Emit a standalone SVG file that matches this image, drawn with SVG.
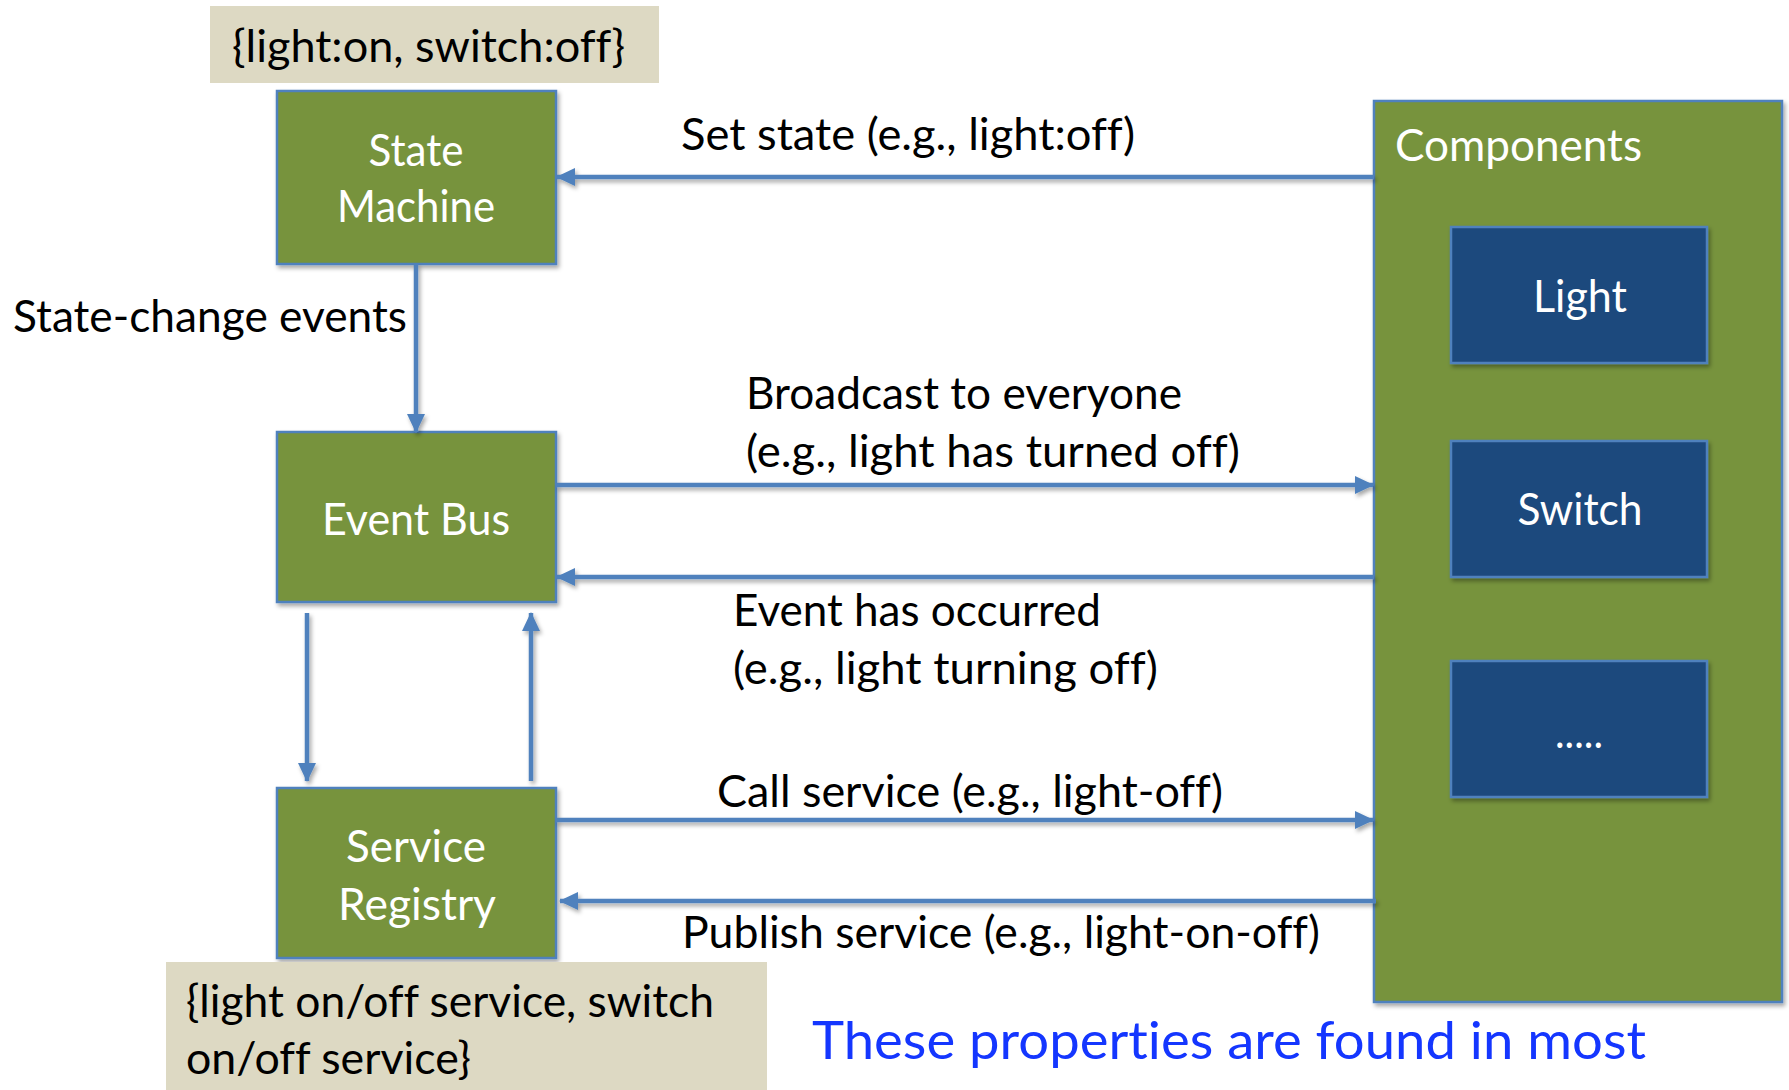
<svg xmlns="http://www.w3.org/2000/svg" width="1789" height="1090" viewBox="0 0 1789 1090">
<defs>
<style>
text{font-variant-ligatures:none;font-feature-settings:"liga" 0,"clig" 0,"dlig" 0}
.node{fill:#77933C;stroke:#4F81BD;stroke-width:2.5}
.comp{fill:#1F497D;stroke:#4F81BD;stroke-width:2.5}
.note{fill:#DDD9C3}
.nl{font-family:Lato,"Open Sans",sans-serif;font-size:44px;fill:#FFFFFF;text-anchor:middle}
.lbl{font-family:Lato,"Open Sans",sans-serif;font-size:45px;fill:#000000}
.wl{fill:#FFFFFF}
.blue{font-family:Lato,"Open Sans",sans-serif;font-size:52px;fill:#1436FF}
.conn{stroke:#4F81BD;stroke-width:4.5;fill:none;marker-end:url(#ah)}
</style>
<marker id="ah" markerUnits="userSpaceOnUse" markerWidth="20" markerHeight="18" refX="18" refY="9" orient="auto">
<path d="M0,0 L19,9 L0,18 z" fill="#4F81BD"/>
</marker>
<filter id="sh" x="-10%" y="-10%" width="130%" height="130%">
<feDropShadow dx="2" dy="3" stdDeviation="2" flood-color="#000" flood-opacity="0.35"/>
</filter>
</defs>
<rect width="1789" height="1090" fill="#FFFFFF"/>

<g id="note-state">
<rect class="note" x="210" y="6" width="449" height="77"/>
<text class="lbl" x="232" y="62" textLength="393" lengthAdjust="spacingAndGlyphs">{light:on, switch:off}</text>
</g>

<g id="components">
<rect class="node" x="1374" y="101" width="408" height="901" filter="url(#sh)"/>
<text class="lbl wl" x="1395" y="161" textLength="247" lengthAdjust="spacingAndGlyphs">Components</text>
</g>
<g id="light">
<rect class="comp" x="1451" y="227" width="256" height="136" filter="url(#sh)"/>
<text class="nl" x="1580" y="312" textLength="94" lengthAdjust="spacingAndGlyphs">Light</text>
</g>
<g id="switch">
<rect class="comp" x="1451" y="441" width="256" height="136" filter="url(#sh)"/>
<text class="nl" x="1580" y="525" textLength="125" lengthAdjust="spacingAndGlyphs">Switch</text>
</g>
<g id="more">
<rect class="comp" x="1451" y="661" width="256" height="136" filter="url(#sh)"/>
<text class="nl" x="1579" y="748" textLength="48" lengthAdjust="spacingAndGlyphs">.....</text>
</g>

<g id="state-machine">
<rect class="node" x="277" y="91" width="279" height="173" filter="url(#sh)"/>
<text class="nl" x="416" y="166" textLength="95" lengthAdjust="spacingAndGlyphs">State</text>
<text class="nl" x="416" y="222" textLength="158" lengthAdjust="spacingAndGlyphs">Machine</text>
</g>

<g id="event-bus">
<rect class="node" x="277" y="432" width="279" height="170" filter="url(#sh)"/>
<text class="nl" x="416" y="535" textLength="188" lengthAdjust="spacingAndGlyphs">Event Bus</text>
</g>

<g id="service-registry">
<rect class="node" x="277" y="788" width="279" height="170" filter="url(#sh)"/>
<text class="nl" x="416" y="862" textLength="140" lengthAdjust="spacingAndGlyphs">Service</text>
<text class="nl" x="417" y="920" textLength="158" lengthAdjust="spacingAndGlyphs">Registry</text>
</g>

<g id="note-services">
<rect class="note" x="166" y="962" width="601" height="128"/>
<text class="lbl" x="186" y="1017" textLength="528" lengthAdjust="spacingAndGlyphs">{light on/off service, switch</text>
<text class="lbl" x="186" y="1074" textLength="285" lengthAdjust="spacingAndGlyphs">on/off service}</text>
</g>

<g id="connectors" filter="url(#sh)">
<line class="conn" x1="1374" y1="177" x2="557" y2="177"/>
<line class="conn" x1="416" y1="264" x2="416" y2="432"/>
<line class="conn" x1="556" y1="485" x2="1373" y2="485"/>
<line class="conn" x1="1374" y1="577" x2="557" y2="577"/>
<line class="conn" x1="307" y1="613" x2="307" y2="781"/>
<line class="conn" x1="531" y1="781" x2="531" y2="613"/>
<line class="conn" x1="556" y1="820" x2="1373" y2="820"/>
<line class="conn" x1="1376" y1="901" x2="560" y2="901"/>
</g>

<g id="labels">
<text class="lbl" x="681" y="150" textLength="454" lengthAdjust="spacingAndGlyphs">Set state (e.g., light:off)</text>
<text class="lbl" x="13" y="332" textLength="394" lengthAdjust="spacingAndGlyphs">State-change events</text>
<text class="lbl" x="746" y="409" textLength="436" lengthAdjust="spacingAndGlyphs">Broadcast to everyone</text>
<text class="lbl" x="746" y="467" textLength="494" lengthAdjust="spacingAndGlyphs">(e.g., light has turned off)</text>
<text class="lbl" x="733" y="626" textLength="368" lengthAdjust="spacingAndGlyphs">Event has occurred</text>
<text class="lbl" x="733" y="684" textLength="425" lengthAdjust="spacingAndGlyphs">(e.g., light turning off)</text>
<text class="lbl" x="717" y="807" textLength="506" lengthAdjust="spacingAndGlyphs">Call service (e.g., light-off)</text>
<text class="lbl" x="682" y="948" textLength="638" lengthAdjust="spacingAndGlyphs">Publish service (e.g., light-on-off)</text>
<text class="blue" x="812" y="1059" textLength="834" lengthAdjust="spacingAndGlyphs">These properties are found in most</text>
</g>
</svg>
